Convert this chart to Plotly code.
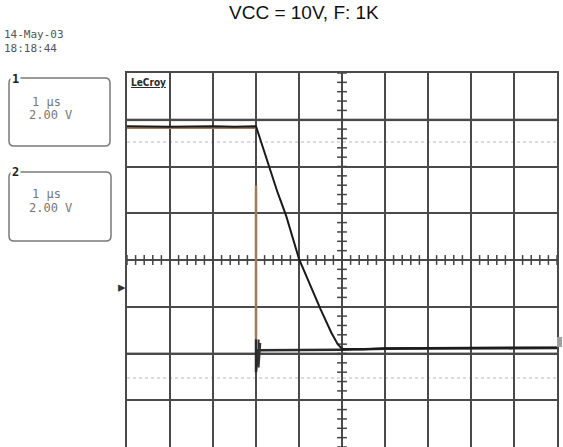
import numpy as np
import plotly.graph_objects as go

# ---- data (time in µs, voltage in V; 1 µs/div, 2 V/div) ----
ch1_t = [-5.0, -4.0, -3.0, -2.5, -2.0, -1.5, -1.3, -1.0, -0.5, -0.25, -0.1, 0.0, 0.5, 1.0, 2.0, 3.0, 4.0, 5.0]
ch1_v = [5.72, 5.70, 5.72, 5.70, 5.72, 2.90, 1.90, 0.05, -2.10, -3.10, -3.60, -3.80, -3.82, -3.78, -3.76, -3.76, -3.74, -3.74]

ch2_hi_t = [-5.0, -2.0, None, -2.0, -2.0]
ch2_hi_v = [5.66, 5.66, None, 3.20, -3.40]
ch2_lo_t = [-2.0, -2.0, -1.95, -1.0, 0.0, 1.0, 2.0, 3.0, 4.0, 5.0]
ch2_lo_v = [-3.40, -4.80, -3.86, -3.86, -3.84, -3.80, -3.80, -3.78, -3.78, -3.76]

marker1_t = [-1.94, -1.94, -1.90]
marker1_v = [-3.40, -4.60, -3.55]

date_text = "14-May-03"
time_text = "18:18:44"
ch_labels = ["1", "2"]
timebase = ["1 \u03bcs", "1 \u03bcs"]
vdiv = ["2.00 V", "2.00 V"]
title_text = "VCC = 10V, F: 1K"

W, H = 563, 447
L, R, T, B = 127, 6, 73, 0
PW, PH = W - L - R, H - T - B


def px(X):
    return (X - L) / PW


def py(Y):
    return (H - B - Y) / PH


fig = go.Figure()

# center-axis tick marks of the graticule
hx = np.round(np.arange(-5, 5.001, 0.2), 3)
vy = np.round(np.arange(-8, 8.001, 0.4), 3)
fig.add_trace(go.Scatter(x=hx, y=[0] * len(hx), mode="markers",
                         marker=dict(symbol="line-ns", size=7, line=dict(width=1.5, color="#444")),
                         hoverinfo="skip", showlegend=False))
fig.add_trace(go.Scatter(x=[0] * len(vy), y=vy, mode="markers",
                         marker=dict(symbol="line-ew", size=7, line=dict(width=1.5, color="#444")),
                         hoverinfo="skip", showlegend=False))

# channel 2 (brown high part, dark low part)
fig.add_trace(go.Scatter(x=ch2_hi_t, y=ch2_hi_v, mode="lines", connectgaps=False,
                         line=dict(color="#a07a5c", width=2.5), hoverinfo="skip", showlegend=False))
fig.add_trace(go.Scatter(x=ch2_lo_t, y=ch2_lo_v, mode="lines",
                         line=dict(color="#2a2a2a", width=2.5), hoverinfo="skip", showlegend=False))
# channel 1 (black)
fig.add_trace(go.Scatter(x=ch1_t, y=ch1_v, mode="lines",
                         line=dict(color="#1a1a1a", width=2), hoverinfo="skip", showlegend=False))
fig.add_trace(go.Scatter(x=marker1_t, y=marker1_v, mode="lines",
                         line=dict(color="#333", width=2), hoverinfo="skip", showlegend=False))

shapes = []
# gray cursor lines
for v in [6, -4]:
    shapes.append(dict(type="line", xref="x", yref="y", x0=-5, x1=5, y0=v, y1=v,
                       line=dict(color="#b4b4b4", width=3), layer="below"))
# dotted lines
for v in [5.05, -5.05]:
    shapes.append(dict(type="line", xref="x", yref="y", x0=-5, x1=5, y0=v, y1=v,
                       line=dict(color="#cfcfcf", width=1.5, dash="dot"), layer="below"))


def rbox(x0, y0, x1, y1, r=5):
    X0, X1 = px(x0), px(x1)
    Y0, Y1 = py(y0), py(y1)
    rx, ry = r / PW, r / PH
    return (f"M {X0+rx},{Y0} L {X1-rx},{Y0} Q {X1},{Y0} {X1},{Y0-ry} "
            f"L {X1},{Y1+ry} Q {X1},{Y1} {X1-rx},{Y1} L {X0+rx},{Y1} "
            f"Q {X0},{Y1} {X0},{Y1+ry} L {X0},{Y0-ry} Q {X0},{Y0} {X0+rx},{Y0} Z")


shapes.append(dict(type="path", xref="paper", yref="paper", path=rbox(9, 78, 110, 146),
                   line=dict(color="#7a7a7a", width=1.5)))
shapes.append(dict(type="path", xref="paper", yref="paper", path=rbox(9, 172, 111, 241),
                   line=dict(color="#7a7a7a", width=1.5)))
# right-edge marker
shapes.append(dict(type="rect", xref="paper", yref="paper", x0=px(557), x1=px(562),
                   y0=py(347), y1=py(337), fillcolor="#a0a0a0", line=dict(width=0)))

mono = "DejaVu Sans Mono"
ann = []
ann.append(dict(text=title_text, x=px(304), y=py(12), xref="paper", yref="paper",
                showarrow=False, font=dict(family="Liberation Sans, Arial", size=19, color="#111"),
                xanchor="center", yanchor="middle"))
ann.append(dict(text=date_text + "<br>" + time_text, x=px(2), y=py(41), xref="paper", yref="paper",
                showarrow=False, align="left",
                font=dict(family=mono, size=11, color="#555"), xanchor="left", yanchor="middle"))
# channel boxes text
for lab, tb, vd, ytop, ys in [(ch_labels[0], timebase[0], vdiv[0], 79, (102, 115)),
                              (ch_labels[1], timebase[1], vdiv[1], 172, (194, 208))]:
    ann.append(dict(text=f"<b>{lab}</b>", x=px(10), y=py(ytop), xref="paper", yref="paper",
                    showarrow=False, font=dict(family=mono, size=12, color="#222"),
                    xanchor="left", yanchor="middle", bgcolor="white"))
    ann.append(dict(text=tb, x=px(46), y=py(ys[0]), xref="paper", yref="paper", showarrow=False,
                    font=dict(family=mono, size=12, color="#777"), xanchor="center", yanchor="middle"))
    ann.append(dict(text=vd, x=px(50), y=py(ys[1]), xref="paper", yref="paper", showarrow=False,
                    font=dict(family=mono, size=12, color="#777"), xanchor="center", yanchor="middle"))
# LeCroy logo
ann.append(dict(text="<b><u>LeCroy</u></b>", x=px(129), y=py(82), xref="paper", yref="paper",
                showarrow=False, font=dict(family="DejaVu Sans Condensed, DejaVu Sans", size=10, color="#2a2a2a"),
                xanchor="left", yanchor="middle"))
# trigger arrow
ann.append(dict(text="\u25b8", x=px(128), y=py(286), xref="paper", yref="paper", showarrow=False,
                font=dict(size=15, color="#333"), xanchor="right", yanchor="middle"))

fig.update_layout(
    width=W, height=H, margin=dict(l=L, r=R, t=T, b=B, pad=0),
    paper_bgcolor="white", plot_bgcolor="white",
    shapes=shapes, annotations=ann, showlegend=False,
    xaxis=dict(range=[-5, 5], dtick=1, tick0=0, showgrid=True, gridcolor="#4a4a4a", gridwidth=1.6,
               zeroline=False, showticklabels=False, ticks="", showline=True, linecolor="#4a4a4a",
               linewidth=1.6, mirror=True, fixedrange=True),
    yaxis=dict(range=[-8, 8], dtick=2, tick0=0, showgrid=True, gridcolor="#4a4a4a", gridwidth=1.6,
               zeroline=False, showticklabels=False, ticks="", showline=True, linecolor="#4a4a4a",
               linewidth=1.6, mirror=True, fixedrange=True),
)

fig.write_html("out.html", config={"displayModeBar": False},
               post_script="document.body.style.margin='0px';document.body.style.overflow='hidden';")
